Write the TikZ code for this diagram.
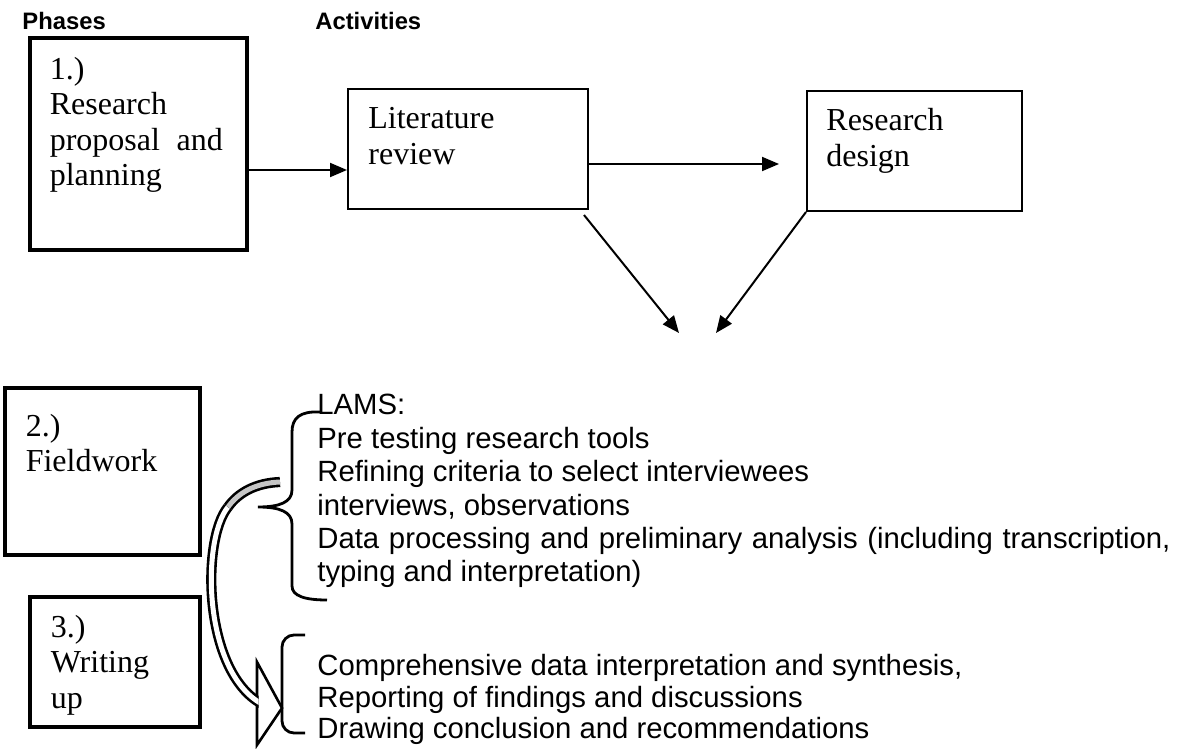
\documentclass[tikz,border=0pt]{standalone}
\usepackage{fontspec}
\setmainfont{Liberation Serif}
\setsansfont{Liberation Sans}
\usetikzlibrary{arrows.meta, positioning}

\begin{document}
\begin{tikzpicture}[x=0.5pt, y=-0.5pt, >={Triangle[length=8.5pt, width=7pt]},
    phasebox/.style={draw, line width=1.6pt, inner sep=0pt},
    actbox/.style={draw, line width=1pt, inner sep=0pt},
    boxtext/.style={anchor=north west, inner sep=0pt, align=left, font=\fontsize{16}{17.8}\selectfont},
    listtext/.style={anchor=north west, inner sep=0pt, align=left, font=\sffamily\fontsize{14.65}{16.7}\selectfont},
    head/.style={anchor=base west, inner sep=0pt, font=\sffamily\bfseries\fontsize{11.9}{14}\selectfont},
    link/.style={->, line width=1pt},
    brace/.style={line width=1.4pt},
    shaft/.style={line width=1.3pt, double distance=2.5pt}]
  \useasboundingbox (0,0) rectangle (1178,749);

  % column heads
  \node[head] (phases) at (22,30) {Phases};
  \node[head] (acts) at (315,30) {Activities};

  % phases
  \node[phasebox, minimum width=108.5pt, minimum height=106pt] (p1) at (138.5,144) {};
  \node[boxtext, text width=86.5pt] (p1txt) at ([shift={(21,20)}]p1.north west)
    {1.)\\Research\\proposal\hspace{\fill}and\\planning};
  \node[phasebox, minimum width=97.5pt, minimum height=83.5pt] (p2) at (102.5,471.5) {};
  \node[boxtext] (p2txt) at ([shift={(22,27)}]p2.north west) {2.)\\Fieldwork};
  \node[phasebox, minimum width=85pt, minimum height=65pt] (p3) at (115,662) {};
  \node[boxtext] (p3txt) at ([shift={(22,19)}]p3.north west) {3.)\\Writing\\up};

  % activities
  \node[actbox, minimum width=120pt, minimum height=60pt] (lit) at (468,149) {};
  \node[boxtext] (littxt) at ([shift={(21,19)}]lit.north west) {Literature\\review};
  \node[actbox, minimum width=107.5pt, minimum height=60pt] (des) at (914.5,151) {};
  \node[boxtext] (destxt) at ([shift={(20,18)}]des.north west) {Research\\design};

  \coordinate (y1) at (0,170);
  \coordinate (y2) at (0,164);
  \coordinate (meetA) at (679,333);
  \coordinate (meetB) at (716,333);
  \draw[link] (p1.east |- y1) -- (lit.west |- y1);
  \draw[link, shorten >=13.5pt] (lit.east |- y2) -- (des.west |- y2);
  \draw[link] ([shift={(-5,5)}]lit.south east) -- (meetA);
  \draw[link] (des.south west) -- (meetB);

  % fieldwork and writing up lists
  \node[listtext, text width=426.5pt, align=justify] (field) at (317,394)
    {LAMS:\\ Pre testing research tools\\ Refining criteria to select interviewees\\
     interviews, observations\\ Data processing and preliminary analysis (including transcription,\linebreak
     typing and interpretation)};
  \node[listtext, font=\sffamily\fontsize{14.65}{15.8}\selectfont] (writ) at (317,654)
    {Comprehensive data interpretation and synthesis,\\ Reporting of findings and discussions\\
     Drawing conclusion and recommendations};

  \draw[brace] (320,412) .. controls (300,411) and (292,418) .. (292,432) -- (292,490)
    .. controls (292,502) and (280,507) .. (258,507)
    .. controls (280,507) and (292,512) .. (292,524) -- (292,586)
    .. controls (292,596) and (305,600) .. (327,600);
  \draw[brace, rounded corners=6pt] (305,635) -| (282,733) -- (305,733);

  % curved block arrow
  \draw[line width=1.3pt, fill=white] (257,662) -- (282,708) -- (257,745) -- cycle;
  \begin{scope}
    \clip (0,0) rectangle (258.5,749);
    \draw[shaft, double=white] (228,507) .. controls (201,540) and (203,672) .. (262,704);
  \end{scope}
  \draw[shaft, double=gray!45] (280,482) .. controls (255,483) and (238,493) .. (228,507);
\end{tikzpicture}
\end{document}
